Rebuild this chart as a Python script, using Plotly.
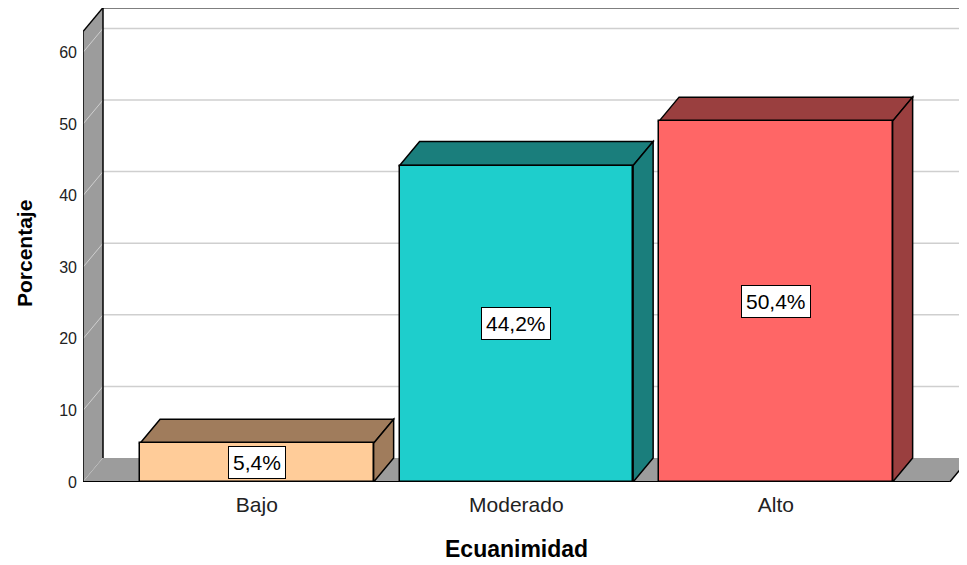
import plotly.graph_objects as go

# ---- data ----
categories = ["Bajo", "Moderado", "Alto"]
values = [5.4, 44.2, 50.4]
front_colors = ["#FFCC99", "#1ECECC", "#FF6666"]
dark_colors = ["#A07C5C", "#1A7E7C", "#9A3F3F"]
y_ticks = [0, 10, 20, 30, 40, 50, 60]
x_title = "Ecuanimidad"
y_title = "Porcentaje"

# ---- geometry ----
# page body has an 8px default margin, so the figure is offset by 8px
OFF = 8
W_PX, H_PX = 967 - OFF, 565 - OFF
ML, MR, MT, MB = 83 - OFF, 0, 8 - OFF, 565 - 482
X_LO = -0.67
PX_PER_X = 259.5
PX_PER_Y = 7.16
plot_w = W_PX - ML - MR
plot_h = H_PX - MT - MB
X_HI = X_LO + plot_w / PX_PER_X
Y_HI = plot_h / PX_PER_Y
DX = 20 / PX_PER_X          # depth offset in x units
DY = 24 / PX_PER_Y          # depth offset in y units
BAR_W = 0.9
WALL_TOP = 62.9
FLOOR_X0 = X_LO
FLOOR_X1 = (len(categories) - 1) + 0.67
WALL_GRAY = "#9C9C9C"
GRID = "#CFCFCF"
FONT = "Arial, Liberation Sans"

shapes = []

def poly(pts, fill, line_color=None, width=1.5):
    path = "M " + " L ".join(f"{x},{y}" for x, y in pts) + " Z"
    d = dict(type="path", path=path, xref="x", yref="y", layer="below",
             fillcolor=fill)
    d["line"] = dict(color=line_color, width=width) if line_color else dict(width=0)
    shapes.append(d)

def seg(x0, y0, x1, y1, color, width=1.5):
    shapes.append(dict(type="line", x0=x0, y0=y0, x1=x1, y1=y1, xref="x",
                       yref="y", layer="below",
                       line=dict(color=color, width=width)))

# back wall
poly([(FLOOR_X0 + DX, DY), (X_HI + 1, DY), (X_HI + 1, WALL_TOP + DY),
      (FLOOR_X0 + DX, WALL_TOP + DY)], "white")
for t in y_ticks[1:]:
    seg(FLOOR_X0 + DX, t + DY, X_HI + 1, t + DY, GRID)
seg(FLOOR_X0 + DX, WALL_TOP + DY, X_HI + 1, WALL_TOP + DY, "black")

# left wall
poly([(FLOOR_X0, 0), (FLOOR_X0, WALL_TOP), (FLOOR_X0 + DX, WALL_TOP + DY),
      (FLOOR_X0 + DX, DY)], WALL_GRAY)
for t in y_ticks:
    seg(FLOOR_X0, t, FLOOR_X0 + DX, t + DY, GRID, 1)
seg(FLOOR_X0, 0, FLOOR_X0, WALL_TOP, "black")
seg(FLOOR_X0, WALL_TOP, FLOOR_X0 + DX, WALL_TOP + DY, "black")
seg(FLOOR_X0 + DX, DY, FLOOR_X0 + DX, WALL_TOP + DY, "black")

# floor
poly([(FLOOR_X0, 0), (FLOOR_X1, 0), (FLOOR_X1 + DX, DY), (FLOOR_X0 + DX, DY)],
     WALL_GRAY)
seg(FLOOR_X0, 0, FLOOR_X1, 0, "black", 2)
seg(FLOOR_X1, 0, FLOOR_X1 + DX, DY, "black")

# bar tops and sides
for i, v in enumerate(values):
    xl = i - BAR_W / 2
    xr = i + BAR_W / 2
    poly([(xl, v), (xr, v), (xr + DX, v + DY), (xl + DX, v + DY)],
         dark_colors[i], "black")
    poly([(xr, 0), (xr, v), (xr + DX, v + DY), (xr + DX, DY)],
         dark_colors[i], "black")

fig = go.Figure()
fig.add_trace(go.Bar(
    x=list(range(len(categories))), y=values, width=BAR_W,
    marker=dict(color=front_colors, line=dict(color="black", width=1.5)),
    hoverinfo="skip", showlegend=False,
))

annotations = []
for i, v in enumerate(values):
    annotations.append(dict(
        x=i, y=v / 2, xref="x", yref="y",
        text=f"{v:.1f}%".replace(".", ","), showarrow=False,
        font=dict(size=21, color="black", family=FONT),
        bgcolor="white", bordercolor="black", borderwidth=1, borderpad=4,
    ))

annotations.append(dict(
    text=y_title, textangle=-90, showarrow=False,
    xref="paper", yref="paper",
    x=(24 - OFF - ML) / plot_w, y=(482 - 254) / plot_h,
    xanchor="center", yanchor="middle",
    font=dict(size=21, color="black", family=FONT, weight="bold"),
))
annotations.append(dict(
    text=x_title, showarrow=False,
    xref="paper", yref="paper",
    x=(516 - OFF - ML) / plot_w, y=-(549 - 482) / plot_h,
    xanchor="center", yanchor="middle",
    font=dict(size=23, color="black", family=FONT, weight="bold"),
))

fig.update_layout(
    width=W_PX, height=H_PX,
    margin=dict(l=ML, r=MR, t=MT, b=MB, pad=0),
    paper_bgcolor="white", plot_bgcolor="white",
    shapes=shapes, annotations=annotations,
    font=dict(family=FONT, color="#222222"),
    xaxis=dict(range=[X_LO, X_HI], tickvals=list(range(len(categories))),
               ticktext=categories, showgrid=False, zeroline=False,
               showline=False, ticks="", tickfont=dict(size=21, color="#222"),
               ticklabelstandoff=8, fixedrange=True),
    yaxis=dict(range=[0, Y_HI], tickvals=y_ticks, showgrid=False,
               zeroline=False, showline=False, ticks="",
               tickfont=dict(size=16, color="#222"), ticklabelstandoff=5,
               fixedrange=True),
    bargap=0,
)

fig.write_html("out.html")
